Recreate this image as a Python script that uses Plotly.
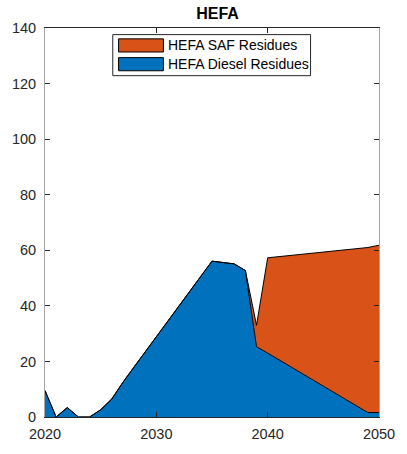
import plotly.graph_objects as go

years = list(range(2020, 2051))
diesel = [9.5, 0, 3.4, 0, 0, 2.6, 6.5, 12.5, 18, 23.5, 29, 34.5, 40, 45.5, 51, 56.1,
          55.6, 55.1, 52.7, 25.3, 23.0, 20.6, 18.2, 15.9, 13.5, 11.1, 8.7, 6.3, 4.0, 1.6, 1.6]
saf = [0]*19 + [7.7, 34.3, 37.1, 39.9, 42.6, 45.4, 48.2, 51.0, 53.8, 56.5, 59.4, 60.2]
series_names = ["HEFA Diesel Residues", "HEFA SAF Residues"]
colors = ["#0072BD", "#D95319"]
title = "HEFA"

W, H = 407, 454
ML, MR, MT, MB = 45, 17, 28, 32
PW, PH = W - ML - MR, H - MT - MB

def px(x):
    return (x - ML) / PW

def py(y):
    return 1 - (y - MT) / PH

fig = go.Figure()
for name, vals, c in zip(series_names, [diesel, saf], colors):
    fig.add_trace(go.Scatter(x=years, y=vals, name=name, stackgroup="one",
                             mode="lines", line=dict(color="black", width=1),
                             fillcolor=c, showlegend=False, hoverinfo="skip"))

font = "Liberation Sans, Arial, sans-serif"
# custom legend
shapes = [dict(type="rect", xref="paper", yref="paper", x0=px(115), x1=px(319.3),
               y0=py(76.3), y1=py(34.7), line=dict(color="#262626", width=1), fillcolor="white")]
annotations = []
legend_items = [(series_names[1], colors[1], 39, 52.3), (series_names[0], colors[0], 58, 71.3)]
for name, c, y0, y1 in legend_items:
    shapes.append(dict(type="rect", xref="paper", yref="paper", x0=px(121), x1=px(167.3),
                       y0=py(y1), y1=py(y0), line=dict(color="black", width=1), fillcolor=c))
    annotations.append(dict(xref="paper", yref="paper", x=px(170), y=py((y0 + y1) / 2),
                            text=name, showarrow=False, xanchor="left", yanchor="middle",
                            font=dict(family=font, size=14, color="black")))

fig.update_layout(
    width=W, height=H,
    margin=dict(l=ML, r=MR, t=MT, b=MB),
    paper_bgcolor="white", plot_bgcolor="white",
    title=dict(text="<b>HEFA</b>", x=0.5 * (ML + W - MR) / W, xanchor="center", y=1 - 13 / H,
               yanchor="middle", font=dict(family=font, size=16, color="black")),
    font=dict(family=font, size=14.5, color="#262626"),
    shapes=shapes, annotations=annotations,
    xaxis=dict(range=[2020, 2050], tickvals=[2020, 2030, 2040, 2050], ticks="inside",
               ticklen=5, tickcolor="#262626", showline=True, linecolor="#262626",
               linewidth=1, mirror="allticks", showgrid=False, zeroline=False,
               ticklabelstandoff=4),
    yaxis=dict(range=[0, 140], tickvals=list(range(0, 141, 20)), ticks="inside",
               ticklen=5, tickcolor="#262626", showline=True, linecolor="#a6a6a6",
               linewidth=1, mirror="allticks", showgrid=False, zeroline=False,
               ticklabelstandoff=5),
)
fig.write_html("out.html", config={"displayModeBar": False},
               post_script="document.body.style.margin='0';document.body.style.overflow='hidden';")
